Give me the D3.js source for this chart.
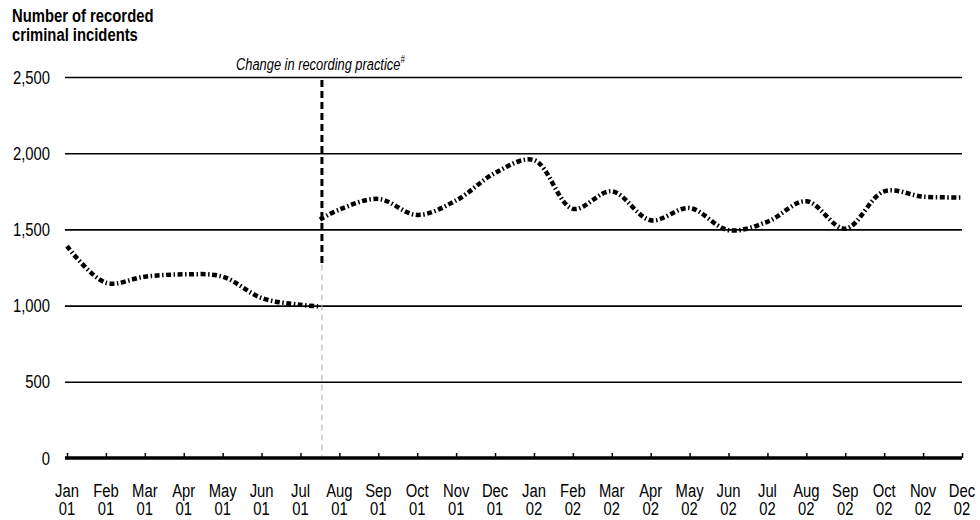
<!DOCTYPE html>
<html>
<head>
<meta charset="utf-8">
<script src="https://cdnjs.cloudflare.com/ajax/libs/d3/7.8.5/d3.min.js"></script>
<style>
  body { margin: 0; background: #fff; }
  svg { display: block; font-family: "Liberation Sans", Arial, sans-serif; }
</style>
</head>
<body>
<svg></svg>
<script>
// month labels on the category axis, two lines each
const monthNames = ['Jan', 'Feb', 'Mar', 'Apr', 'May', 'Jun', 'Jul', 'Aug', 'Sep', 'Oct', 'Nov', 'Dec',
                    'Jan', 'Feb', 'Mar', 'Apr', 'May', 'Jun', 'Jul', 'Aug', 'Sep', 'Oct', 'Nov', 'Dec']
const yearNames = ['01', '01', '01', '01', '01', '01', '01', '01', '01', '01', '01', '01',
                   '02', '02', '02', '02', '02', '02', '02', '02', '02', '02', '02', '02']

// Jan 01 - Jul 01 (old recording practice)
const beforeValues = [1390, 1150, 1190, 1205, 1190, 1050, 1005]
// Aug 01 - Dec 02 (new recording practice)
const afterValues = [1630, 1700, 1595, 1690, 1870, 1955, 1635, 1750, 1560, 1640, 1495, 1550,
                     1685, 1505, 1750, 1715, 1710]

// the change happened part way through July 01
const changeAt = 6.5
const changeBefore = 995
const changeAfter = 1565

const yTicks = [0, 500, 1000, 1500, 2000, 2500]

const width = 980
const height = 520
const margin = { top: 77, bottom: 62, left: 65, right: 18 }
const narrow = 0.78   // squeeze text sideways, no narrow font installed

const svg = d3.select('svg')
  .attr('width', width)
  .attr('height', height)

const xScale = d3.scaleLinear()
  .domain([0, monthNames.length - 1])
  .range([67, width - margin.right])

const yScale = d3.scaleLinear()
  .domain([0, 2500])
  .range([height - margin.bottom, margin.top])

function squeeze(x, y) {
  return `translate(${x}, ${y}) scale(${narrow}, 1)`
}

// horizontal gridlines
const grid = svg.append('g')
  .attr('transform', `translate(${margin.left}, 0)`)
  .call(d3.axisLeft(yScale)
    .tickValues(yTicks.filter(d => d > 0))
    .tickSize(-(width - margin.right - margin.left))
    .tickFormat(''))
grid.select('.domain').remove()
grid.selectAll('line')
  .attr('stroke', '#000')
  .attr('stroke-width', 1.6)

// y labels
svg.append('g')
  .selectAll('text')
  .data(yTicks)
  .enter()
  .append('text')
  .attr('transform', d => squeeze(50, yScale(d)))
  .attr('dy', '0.35em')
  .attr('text-anchor', 'end')
  .style('font-size', '19px')
  .text(d => d3.format(',')(d))

// x axis (bold baseline with small upward ticks)
const xAxis = svg.append('g')
  .attr('transform', `translate(0, ${yScale(0)})`)
  .call(d3.axisBottom(xScale)
    .tickValues(d3.range(monthNames.length))
    .tickSize(-5)
    .tickSizeOuter(0)
    .tickFormat(''))
xAxis.select('.domain')
  .attr('d', `M${margin.left},0H${width - margin.right}`)
  .attr('stroke', '#000')
  .attr('stroke-width', 3.5)
xAxis.selectAll('.tick line')
  .attr('stroke', '#000')
  .attr('stroke-width', 1.5)

const labels = svg.append('g')
  .selectAll('text')
  .data(monthNames)
  .enter()
  .append('text')
  .attr('transform', (d, i) => squeeze(xScale(i), 497))
  .attr('text-anchor', 'middle')
  .style('font-size', '19px')
labels.append('tspan')
  .attr('x', 0)
  .attr('y', 0)
  .text(d => d)
labels.append('tspan')
  .attr('x', 0)
  .attr('y', 18)
  .text((d, i) => yearNames[i])

// change in recording practice marker
svg.append('line')
  .attr('x1', xScale(changeAt) + 2)
  .attr('x2', xScale(changeAt) + 2)
  .attr('y1', yScale(1270))
  .attr('y2', yScale(0) - 2)
  .attr('stroke', '#aaa')
  .attr('stroke-width', 1)
  .attr('stroke-dasharray', '6,4')

svg.append('line')
  .attr('x1', xScale(changeAt) + 2)
  .attr('x2', xScale(changeAt) + 2)
  .attr('y1', yScale(2500) + 3)
  .attr('y2', yScale(1270))
  .attr('stroke', '#000')
  .attr('stroke-width', 3)
  .attr('stroke-dasharray', '7,4')

const note = svg.append('text')
  .attr('transform', squeeze(236, 70))
  .style('font-size', '16.5px')
  .style('font-style', 'italic')
note.append('tspan').text('Change in recording practice')
note.append('tspan')
  .attr('dy', -7)
  .style('font-size', '10px')
  .text('#')

// series
const line = d3.line()
  .x(d => xScale(d[0]))
  .y(d => yScale(d[1]))
  .curve(d3.curveCatmullRom.alpha(0.5))

const beforeData = beforeValues.map((v, i) => [i, v]).concat([[changeAt, changeBefore]])
const afterData = [[changeAt, changeAfter]].concat(afterValues.map((v, i) => [i + 7, v]))

svg.selectAll('path.series')
  .data([beforeData, afterData])
  .enter()
  .append('path')
  .attr('class', 'series')
  .attr('d', line)
  .attr('fill', 'none')
  .attr('stroke', '#000')
  .attr('stroke-width', 4.5)
  .attr('stroke-dasharray', '5,2.5,1.5,2.5')

// title
const title = svg.append('text')
  .attr('transform', squeeze(12, 0))
  .style('font-size', '19px')
  .style('font-weight', 'bold')
title.append('tspan').attr('x', 0).attr('y', 22).text('Number of recorded')
title.append('tspan').attr('x', 0).attr('y', 41).text('criminal incidents')
</script>
</body>
</html>
